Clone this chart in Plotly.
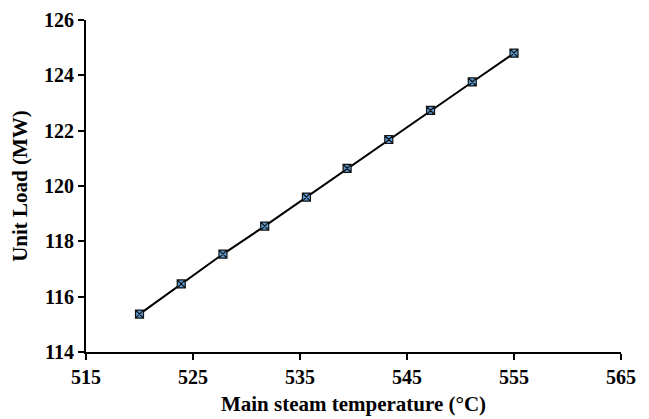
import plotly.graph_objects as go

temperature = [520.0, 523.9, 527.8, 531.7, 535.6, 539.4, 543.3, 547.2, 551.1, 555.0]
unit_load = [115.37, 116.46, 117.54, 118.55, 119.60, 120.64, 121.68, 122.73, 123.76, 124.80]

x_ticks = [515, 525, 535, 545, 555, 565]
y_ticks = [114, 116, 118, 120, 122, 124, 126]

font_family = "Liberation Serif"

fig = go.Figure()
fig.add_trace(go.Scatter(
    x=temperature, y=unit_load, mode="lines+markers",
    line=dict(color="black", width=2),
    marker=dict(symbol="square-x", size=8, color="#5b9bd5",
                line=dict(color="#111111", width=1.2)),
    showlegend=False,
))

fig.update_layout(
    width=649, height=419,
    margin=dict(l=78, r=36, t=12, b=75, autoexpand=False),
    plot_bgcolor="white", paper_bgcolor="white",
    font=dict(family=font_family, color="black"),
)
fig.update_xaxes(
    range=[515, 565], tickvals=x_ticks, ticktext=[f"<b>{v}</b>" for v in x_ticks],
    showgrid=False, zeroline=False, showline=True, linecolor="black", linewidth=2,
    ticks="outside", ticklen=6, tickwidth=2, tickcolor="black",
    tickfont=dict(size=20, family=font_family), ticklabeloverflow="allow",
    title=dict(text="<b>Main steam temperature (°C)</b>", font=dict(size=21, family=font_family), standoff=9),
    automargin=False,
)
fig.update_yaxes(
    range=[114, 126], tickvals=y_ticks, ticktext=[f"<b>{v}</b>" for v in y_ticks],
    showgrid=False, zeroline=False, showline=True, linecolor="black", linewidth=2,
    ticks="outside", ticklen=6, tickwidth=2, tickcolor="black",
    tickfont=dict(size=20, family=font_family), ticklabeloverflow="allow",
    title=dict(text="<b>Unit Load (MW)</b>", font=dict(size=21, family=font_family), standoff=12),
    automargin=False,
)

fig.write_html("out.html")
